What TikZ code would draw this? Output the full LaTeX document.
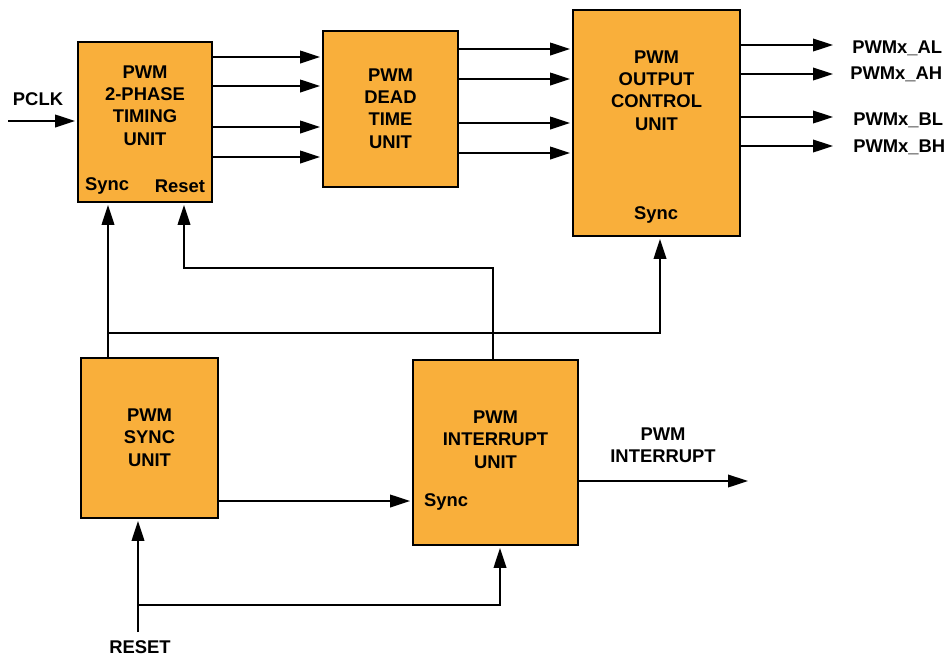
\documentclass[tikz,border=0pt]{standalone}
\usepackage{fontspec}
\setmainfont{Liberation Sans}
\usetikzlibrary{arrows.meta}
\definecolor{unitfill}{HTML}{F9AF3B}
\tikzset{
  unitbox/.style={draw, line width=1.4pt, fill=unitfill, inner sep=0pt},
  title/.style={align=center, font=\bfseries\fontsize{13.8}{16.8}\selectfont},
  tag/.style={font=\bfseries\fontsize{13.8}{16.8}\selectfont, inner sep=0pt},
  sig/.style={line width=1.2pt, -{Triangle[length=15pt,width=9.5pt]}, shorten >=1.5pt},
}
\begin{document}
\begin{tikzpicture}[x=0.75pt, y=-0.75pt]
  \useasboundingbox (0,0) rectangle (949,658);
  % unit blocks
  \node[unitbox, minimum width=100.5pt, minimum height=120pt] (timing) at (145,122) {};
  \node[unitbox, minimum width=101.25pt, minimum height=117pt] (dead) at (390.5,109) {};
  \node[unitbox, minimum width=125.25pt, minimum height=169.5pt] (outctl) at (656.5,123) {};
  \node[unitbox, minimum width=102.75pt, minimum height=120pt] (syncu) at (149.5,438) {};
  \node[unitbox, minimum width=123.75pt, minimum height=138.75pt] (intu) at (495.5,452.5) {};
  % block titles
  \node[title] (timingT) at (145,105.5) {PWM\\2-PHASE\\TIMING\\UNIT};
  \node[title] (deadT) at (390.5,108.5) {PWM\\DEAD\\TIME\\UNIT};
  \node[title] (outctlT) at (656.5,90.5) {PWM\\OUTPUT\\CONTROL\\UNIT};
  \node[title] (syncuT) at (149.5,437.5) {PWM\\SYNC\\UNIT};
  \node[title] (intuT) at (495.5,439.5) {PWM\\INTERRUPT\\UNIT};
  % port tags
  \node[tag] (timingS) at (107,186) {Sync};
  \node[tag] (timingR) at (180,186) {Reset};
  \node[tag] (outctlS) at (656,215) {Sync};
  \node[tag] (intuS) at (446,502) {Sync};
  % external signals
  \node[tag] (pclk) at (38,99) {PCLK};
  \node[tag] (reset) at (140,647) {RESET};
  \node[title] (pwmint) at (663,445) {PWM\\INTERRUPT};
  \node[tag, anchor=west] (al) at (852,48) {PWMx\_AL};
  \node[tag, anchor=west] (ah) at (850,74) {PWMx\_AH};
  \node[tag, anchor=west] (bl) at (853,120) {PWMx\_BL};
  \node[tag, anchor=west] (bh) at (853,147) {PWMx\_BH};
  \coordinate (pclkS) at (8,121);
  \coordinate (resetS) at (138,632);
  \coordinate (intE) at (750,481);
  % timing -> dead time -> output control
  \foreach \y in {57,86,127,157}
    \draw[sig] (timing.east |- 0,\y) -- (dead.west |- 0,\y);
  \foreach \y in {49,79,123,153}
    \draw[sig] (dead.east |- 0,\y) -- (outctl.west |- 0,\y);
  \foreach \y in {45,74,117,146}
    \draw[sig] (outctl.east |- 0,\y) -- (835,\y);
  \draw[sig] (pclkS) -- (timing.west |- pclkS);
  % sync paths
  \draw[sig] (syncu.north -| 108,0) -- (timing.south -| 108,0);
  \draw[sig] (108,333) -| (outctl.south -| 660,0);
  \draw[sig] (intu.north -| 493,0) |- (184,268) -- (timing.south -| 184,0);
  \draw[sig] (syncu.east |- 0,501) -- (intu.west |- 0,501);
  \draw[sig] (intu.east |- intE) -- (intE);
  % reset paths
  \draw[sig] (resetS) -- (syncu.south -| resetS);
  \draw[sig] (138,605) -| (intu.south -| 500,0);
\end{tikzpicture}
\end{document}
